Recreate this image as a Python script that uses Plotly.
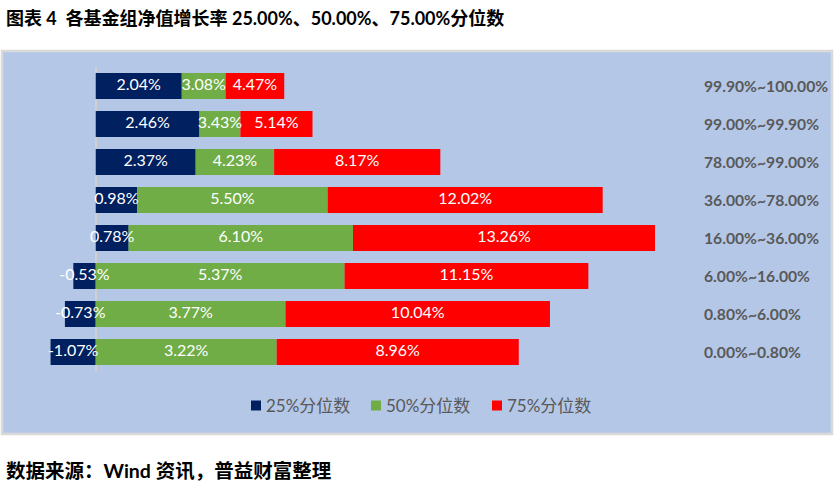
import plotly.graph_objects as go

categories = ["99.90%~100.00%", "99.00%~99.90%", "78.00%~99.00%", "36.00%~78.00%",
              "16.00%~36.00%", "6.00%~16.00%", "0.80%~6.00%", "0.00%~0.80%"]
q25 = [2.04, 2.46, 2.37, 0.98, 0.78, -0.53, -0.73, -1.07]
q50 = [3.08, 3.43, 4.23, 5.50, 6.10, 5.37, 3.77, 3.22]
q75 = [4.47, 5.14, 8.17, 12.02, 13.26, 11.15, 10.04, 8.96]

names = ["25%分位数", "50%分位数", "75%分位数"]
colors = ["#002060", "#70AD47", "#FF0000"]

# Bar segment lengths (Excel style): 25% value, then increments up to 50% and 75%
seg25 = q25
seg50 = [b - a for a, b in zip(q25, q50)]
seg75 = [c - b for b, c in zip(q50, q75)]

# label centres of each stacked segment (relative stacking: positives stack from 0)
base50 = [max(a, 0) for a in q25]
base75 = [b + s for b, s in zip(base50, seg50)]
c25 = [a / 2 for a in seg25]
c50 = [b + s / 2 for b, s in zip(base50, seg50)]
c75 = [b + s / 2 for b, s in zip(base75, seg75)]

W, H = 835, 490
FONT = "Lato, 'Noto Sans CJK SC', sans-serif"

fig = go.Figure()
for seg, name, col in [(seg25, names[0], colors[0]),
                       (seg50, names[1], colors[1]),
                       (seg75, names[2], colors[2])]:
    fig.add_trace(go.Bar(
        y=categories, x=seg, orientation="h", name=name,
        marker=dict(color=col, line=dict(width=0)),
        hoverinfo="skip", showlegend=False,
    ))
for cx, vals in [(c25, q25), (c50, q50), (c75, q75)]:
    fig.add_trace(go.Scatter(
        y=categories, x=cx, mode="text",
        text=[f"{v:.2f}%" for v in vals], textposition="middle center",
        textfont=dict(color="white", size=16, family=FONT),
        cliponaxis=False, hoverinfo="skip", showlegend=False,
    ))

px0, px1 = 10, 690
zero_px, scale = 95.7, 42.18
x_lo = -(zero_px - px0) / scale
x_hi = (px1 - zero_px) / scale

# custom legend (square + label), positions in pixels
leg_sq_x = [251, 371, 492]
leg_y = 405.5
shapes = [dict(type="rect", xref="paper", yref="paper", layer="below",
               x0=2 / W, x1=832 / W, y0=1 - 434 / H, y1=1 - 51 / H,
               fillcolor="#B4C7E7", line=dict(color="#D9D9D9", width=2.5))]
annotations = [
    dict(text="<b>图表 4\u00a0\u00a0各基金组净值增长率 25.00%、50.00%、75.00%分位数</b>",
         xref="paper", yref="paper", x=4 / W, y=1 - 18 / H, xanchor="left", yanchor="middle",
         showarrow=False, font=dict(size=18, color="black", family=FONT)),
    dict(text="<b>数据来源：Wind 资讯，普益财富整理</b>",
         xref="paper", yref="paper", x=4 / W, y=1 - 470 / H, xanchor="left", yanchor="middle",
         showarrow=False, font=dict(size=19.5, color="black", family=FONT)),
]
for sx, name, col in zip(leg_sq_x, names, colors):
    shapes.append(dict(type="rect", xref="paper", yref="paper",
                       x0=sx / W, x1=(sx + 10) / W, y0=1 - (leg_y + 5) / H, y1=1 - (leg_y - 5) / H,
                       fillcolor=col, line=dict(width=0)))
    annotations.append(dict(text=name, xref="paper", yref="paper", x=(sx + 13) / W, y=1 - leg_y / H,
                            xanchor="left", yanchor="middle", showarrow=False,
                            font=dict(size=17, color="#595959", family=FONT)))

fig.update_layout(
    width=W, height=H,
    margin=dict(l=0, r=0, t=0, b=0),
    paper_bgcolor="white", plot_bgcolor="rgba(0,0,0,0)",
    barmode="relative", bargap=0.316,
    font=dict(family=FONT, color="#595959"),
    showlegend=False,
    xaxis=dict(domain=[px0 / W, px1 / W], range=[x_lo, x_hi], showticklabels=False,
               showgrid=False, zeroline=True, zerolinecolor="#D0D0D0", zerolinewidth=2,
               showline=False, fixedrange=True),
    yaxis=dict(domain=[1 - 371 / H, 1 - 67 / H], autorange="reversed", side="right",
               showgrid=False, showline=False, ticks="", ticklabelstandoff=13,
               tickfont=dict(size=15.7, color="#595959", family=FONT, weight="bold"),
               fixedrange=True),
    shapes=shapes,
    annotations=annotations,
)

fig.write_html("out.html")
